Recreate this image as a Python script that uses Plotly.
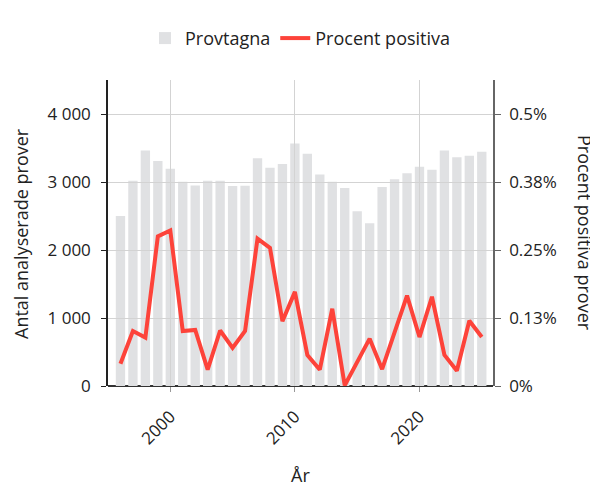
import plotly.graph_objects as go

years = list(range(1996, 2026))
provtagna = [2500, 3020, 3465, 3310, 3195, 3005, 2950, 3020, 3020, 2940,
             2945, 3350, 3210, 3265, 3565, 3415, 3110, 3005, 2910, 2570,
             2395, 2925, 3040, 3130, 3225, 3180, 3465, 3365, 3385, 3445]
procent = [0.041, 0.101, 0.089, 0.275, 0.286, 0.101, 0.103, 0.030, 0.102, 0.070,
           0.101, 0.271, 0.254, 0.119, 0.173, 0.057, 0.030, 0.142, 0.001, 0.043,
           0.087, 0.031, 0.099, 0.166, 0.090, 0.164, 0.057, 0.028, 0.120, 0.090]

left_ticks = [0, 1000, 2000, 3000, 4000]
left_text = [f"{v:,}".replace(",", " ") for v in left_ticks]
right_ticks = [0, 0.125, 0.25, 0.375, 0.5]
right_text = ["0%", "0.13%", "0.25%", "0.38%", "0.5%"]
x_ticks = [2000, 2010, 2020]

FONT = "Open Sans"
BAR = "#e0e1e3"
RED = "#fd433a"
GRID = "#d3d3d3"
TICK_SIZE = 17
TITLE_SIZE = 18

fig = go.Figure()
fig.add_trace(go.Bar(x=years, y=provtagna, name="Provtagna", marker_color=BAR,
                     marker_line_width=0, xaxis="x", yaxis="y"))
fig.add_trace(go.Scatter(x=years, y=procent, name="Procent positiva", mode="lines",
                         line=dict(color=RED, width=4), xaxis="x2", yaxis="y2"))

xr = [1995, 2025.9]
fig.update_layout(
    width=590, height=479,
    margin=dict(l=100, r=105, t=62, b=101),
    paper_bgcolor="white", plot_bgcolor="rgba(0,0,0,0)",
    font=dict(family=FONT, size=TICK_SIZE, color="#222"),
    bargap=0.25,
    showlegend=True,
    legend=dict(orientation="h", x=0.5, xanchor="center", y=1.136, yanchor="middle",
                font=dict(size=TITLE_SIZE), itemwidth=30),
    xaxis=dict(domain=[0, 1], range=xr, anchor="y", tickvals=x_ticks, ticks="outside",
               ticklen=5, tickcolor="#999", tickangle=-45, showgrid=False, showline=False,
               zeroline=False, tickfont=dict(size=TICK_SIZE), ticklabelstandoff=8),
    yaxis=dict(domain=[0, 1], range=[0, 4500], anchor="x", side="left",
               tickvals=left_ticks, ticktext=left_text, ticks="outside", ticklen=5,
               tickcolor="#222", showline=True, linecolor="#222", linewidth=1.5,
               showgrid=False, zeroline=True, zerolinecolor="#333", zerolinewidth=1.5,
               tickfont=dict(size=TICK_SIZE), ticklabelstandoff=7),
    xaxis2=dict(domain=[0, 1], range=xr, anchor="y2", tickvals=x_ticks, showgrid=True,
                gridcolor=GRID, gridwidth=1, showticklabels=False, ticks="",
                showline=False, zeroline=False),
    yaxis2=dict(domain=[0, 1], range=[0, 0.5625], anchor="x2", side="right",
                tickvals=right_ticks, ticktext=right_text, ticks="outside", ticklen=6,
                tickcolor="#666", showline=True, linecolor="#666", linewidth=1.5,
                showgrid=True, gridcolor=GRID, gridwidth=1, zeroline=False,
                tickfont=dict(size=TICK_SIZE), ticklabelstandoff=5),
    annotations=[
        dict(text="Antal analyserade prover", xref="paper", yref="paper", x=-0.226, y=0.5,
             textangle=-90, showarrow=False, font=dict(size=TITLE_SIZE),
             xanchor="center", yanchor="middle"),
        dict(text="Procent positiva prover", xref="paper", yref="paper", x=1.239, y=0.5,
             textangle=90, showarrow=False, font=dict(size=TITLE_SIZE),
             xanchor="center", yanchor="middle"),
        dict(text="År", xref="paper", yref="paper", x=0.5, y=-0.291,
             showarrow=False, font=dict(size=TITLE_SIZE), xanchor="center", yanchor="middle"),
    ],
)

fig.write_html("out.html")
